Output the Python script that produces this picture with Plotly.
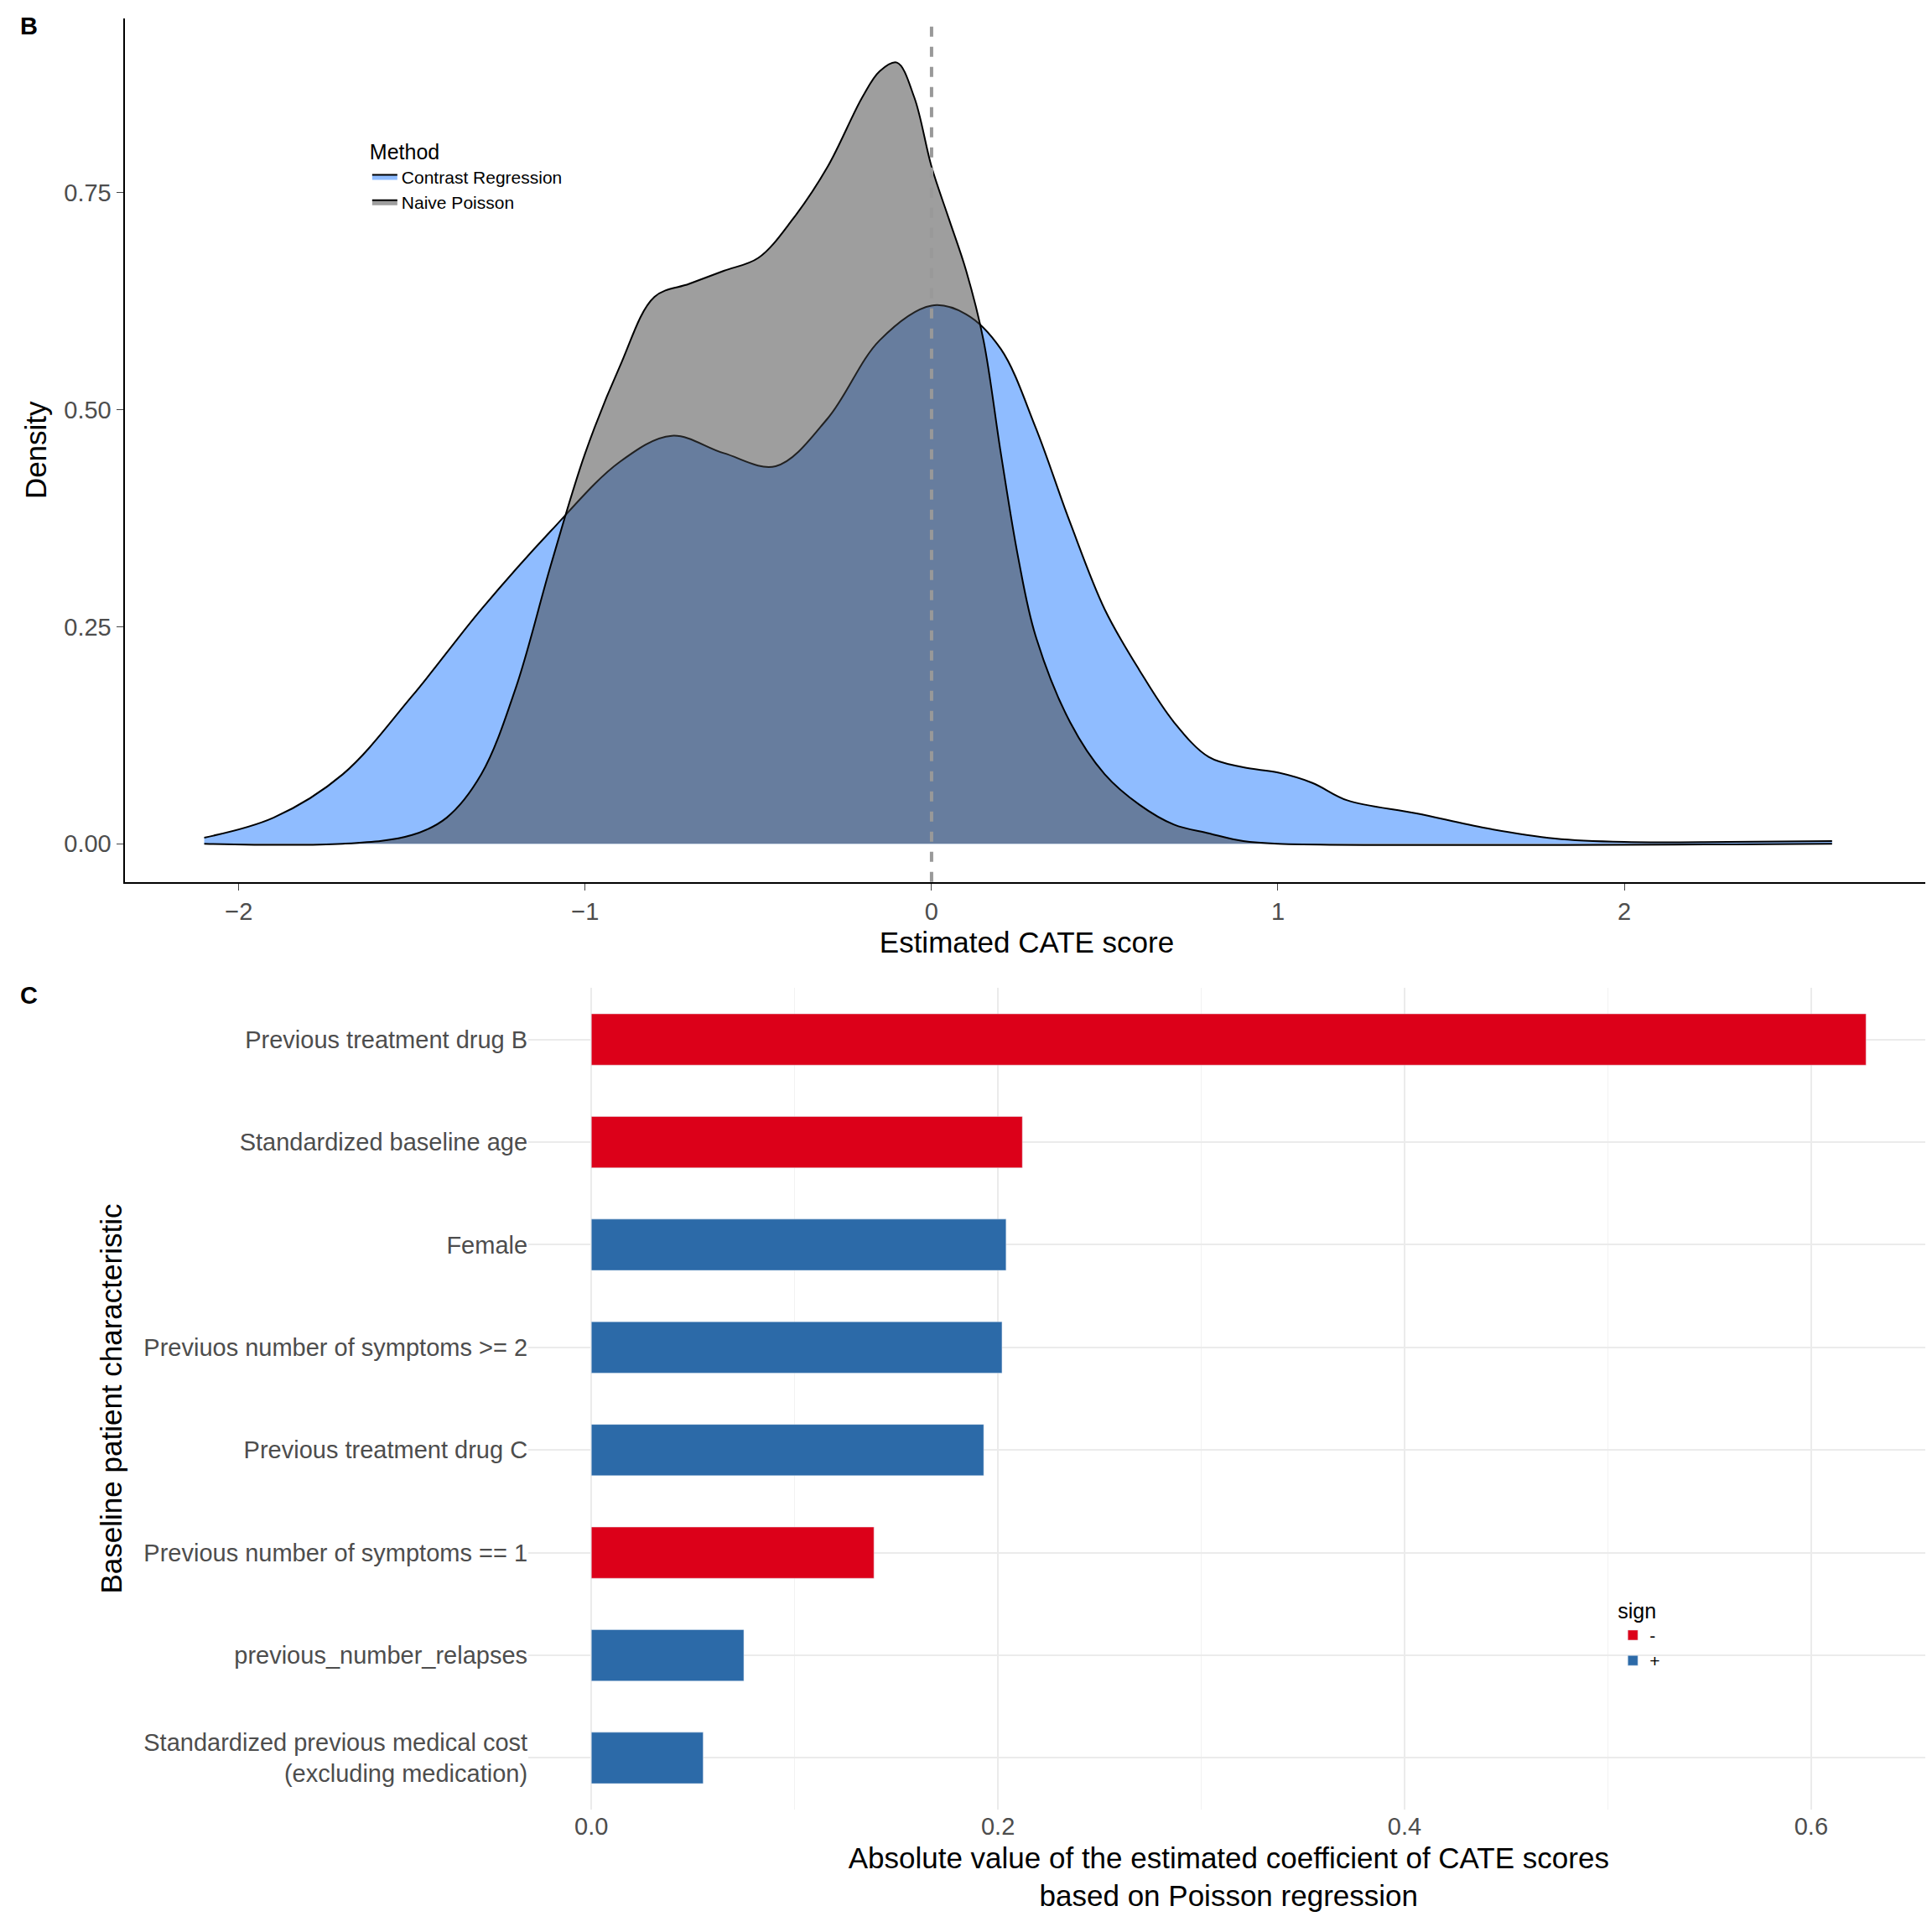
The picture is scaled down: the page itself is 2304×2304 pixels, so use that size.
import plotly.graph_objects as go

# density curves
cr_x = [-2.1, -1.9, -1.7, -1.5, -1.3, -1.1, -0.9, -0.75, -0.6, -0.45, -0.3, -0.15, 0.0, 0.1, 0.2, 0.3,
        0.4, 0.5, 0.6, 0.7, 0.8, 0.9, 1.0, 1.1, 1.2, 1.4, 1.6, 1.8, 2.0, 2.3, 2.6]
cr_y = [0.007, 0.03, 0.08, 0.17, 0.27, 0.36, 0.44, 0.47, 0.45, 0.435, 0.49, 0.58, 0.62, 0.61, 0.57, 0.48,
        0.37, 0.27, 0.2, 0.14, 0.1, 0.088, 0.082, 0.07, 0.05, 0.035, 0.018, 0.006, 0.002, 0.002, 0.003]
np_x = [-2.1, -1.7, -1.5, -1.4, -1.3, -1.2, -1.1, -1.0, -0.9, -0.8, -0.7, -0.6, -0.5, -0.4, -0.3, -0.2,
        -0.15, -0.1, -0.05, 0.0, 0.05, 0.1, 0.15, 0.2, 0.25, 0.3, 0.4, 0.5, 0.6, 0.7, 0.8, 0.9, 1.0, 2.6]
np_y = [0.0, 0.0, 0.01, 0.03, 0.08, 0.18, 0.32, 0.45, 0.55, 0.63, 0.645, 0.66, 0.675, 0.72, 0.78, 0.86,
        0.89, 0.9, 0.86, 0.78, 0.72, 0.66, 0.58, 0.45, 0.33, 0.24, 0.14, 0.08, 0.045, 0.022, 0.012, 0.003, 0.0, 0.0]

# coefficients
features = ["Previous treatment drug B", "Standardized baseline age", "Female",
            "Previuos number of symptoms >= 2", "Previous treatment drug C",
            "Previous number of symptoms == 1", "previous_number_relapses",
            "Standardized previous medical cost<br>(excluding medication)"]
coef = [0.627, 0.212, 0.204, 0.202, 0.193, 0.139, 0.075, 0.055]
sign = ["-", "-", "+", "+", "+", "-", "+", "+"]

FONT = "Liberation Sans, Arial, sans-serif"
RED = "#DC0019"
BLUE = "#2C6AA8"

fig = go.Figure()
fig.add_trace(go.Scatter(x=cr_x, y=cr_y, mode="lines", line=dict(color="black", width=2, shape="spline"),
                         fill="tozeroy", fillcolor="#8FBCFF", name="Contrast Regression",
                         legend="legend", xaxis="x", yaxis="y"))
fig.add_trace(go.Scatter(x=np_x, y=np_y, mode="lines", line=dict(color="black", width=2, shape="spline"),
                         fill="tozeroy", fillcolor="rgba(65,65,65,0.51)", name="Naive Poisson",
                         legend="legend", xaxis="x", yaxis="y"))

for s, col in [("-", RED), ("+", BLUE)]:
    fig.add_trace(go.Bar(
        x=[c for c, g in zip(coef, sign) if g == s],
        y=[f for f, g in zip(features, sign) if g == s],
        orientation="h", marker_color=col, width=0.5, name=s,
        legend="legend2", xaxis="x2", yaxis="y2"))

fig.add_shape(type="line", xref="x", yref="paper", x0=0, x1=0, y0=0.547, y1=0.994,
              line=dict(color="#999999", width=4, dash="dash"))

tick = dict(size=29, color="#4d4d4d", family=FONT)
fig.update_layout(
    width=2304, height=2304, plot_bgcolor="white", paper_bgcolor="white",
    margin=dict(l=0, r=0, t=0, b=0), font=dict(family=FONT, color="black"),
    barmode="overlay",
    xaxis=dict(domain=[0.061, 0.995], anchor="y", range=[-2.33, 2.88], dtick=1,
               showline=True, linecolor="black", linewidth=2, ticks="outside", ticklen=8,
               tickfont=tick, showgrid=False, zeroline=False,
               title=dict(text="Estimated CATE score", font=dict(size=35), standoff=10)),
    yaxis=dict(domain=[0.547, 0.994], anchor="x", range=[-0.044, 0.951],
               tickvals=[0, 0.25, 0.5, 0.75], ticktext=["0.00", "0.25", "0.50", "0.75"],
               showline=True, linecolor="black", linewidth=2, ticks="outside", ticklen=8,
               tickfont=tick, showgrid=False, zeroline=False,
               title=dict(text="Density", font=dict(size=35), standoff=10)),
    xaxis2=dict(domain=[0.27, 0.995], anchor="y2", range=[-0.031, 0.658], dtick=0.2,
                tickformat=".1f", tickfont=tick, showgrid=True, gridcolor="#EBEBEB", gridwidth=2,
                minor=dict(dtick=0.1, showgrid=True, gridcolor="#F2F2F2", gridwidth=1),
                zeroline=False,
                title=dict(text="Absolute value of the estimated coefficient of CATE scores<br>based on Poisson regression",
                           font=dict(size=35), standoff=10)),
    yaxis2=dict(domain=[0.067, 0.492], anchor="x2", categoryorder="array",
                categoryarray=features[::-1], tickfont=tick, showgrid=True,
                gridcolor="#EBEBEB", gridwidth=2, ticklen=0, ticks="",
                title=dict(text="Baseline patient characteristic", font=dict(size=35), standoff=15)),
    legend=dict(x=0.187, y=0.935, xanchor="left", yanchor="top", title=dict(text="Method", font=dict(size=25)),
                font=dict(size=21), bgcolor="rgba(0,0,0,0)"),
    legend2=dict(x=0.833, y=0.18, xanchor="left", yanchor="top", title=dict(text="sign", font=dict(size=25)),
                 font=dict(size=21), bgcolor="rgba(0,0,0,0)"),
    annotations=[
        dict(text="<b>B</b>", x=0.006, y=0.998, xref="paper", yref="paper", showarrow=False,
             xanchor="left", yanchor="top", font=dict(size=29)),
        dict(text="<b>C</b>", x=0.006, y=0.496, xref="paper", yref="paper", showarrow=False,
             xanchor="left", yanchor="top", font=dict(size=29)),
    ],
)

fig.write_html("out.html")
